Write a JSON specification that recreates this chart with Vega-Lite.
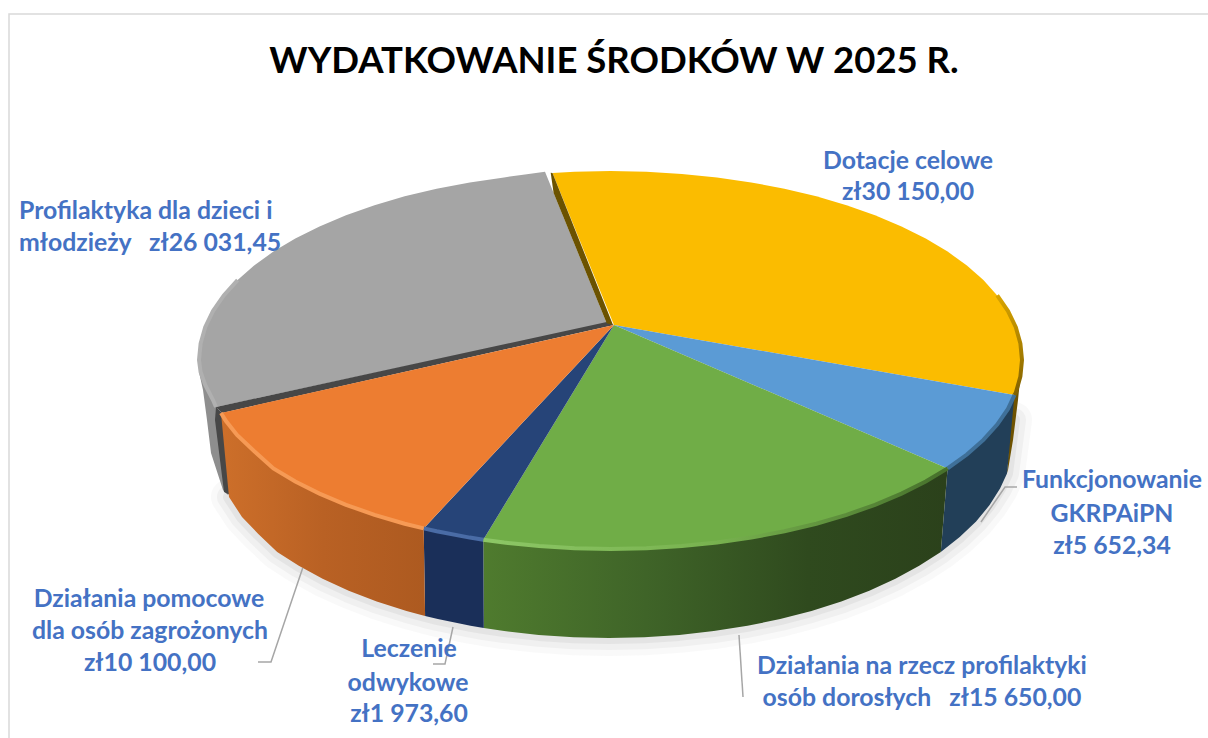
{
"$schema":"https://vega.github.io/schema/vega-lite/v6.json",
"width":1208,"height":648,"autosize":{"type":"none"},"padding":{"left":0,"right":0,"top":90,"bottom":0},
"background":"#ffffff","view":{"stroke":null},
"title":{"text":"WYDATKOWANIE ŚRODKÓW W 2025 R.","font":"Lato","fontSize":36.5,"fontWeight":"bold","color":"#000000","anchor":"middle","dx":10,"dy":69,"offset":0},
"datasets":{
"frame":[{"x":1208,"y":14},{"x":9,"y":14},{"x":9,"y":738}],
"bottomEdge":[{"x":1014,"y":420},{"x":1007,"y":473.5},{"x":1000.2,"y":488.3},{"x":989.6,"y":505.1},{"x":976.1,"y":521.4},{"x":959.7,"y":537},{"x":940.8,"y":551.9},{"x":919.2,"y":565.8},{"x":895.4,"y":578.8},{"x":869.3,"y":590.7},{"x":841.3,"y":601.5},{"x":811.5,"y":610.9},{"x":780.2,"y":619.1},{"x":747.5,"y":625.8},{"x":713.8,"y":631.1},{"x":679.3,"y":634.9},{"x":644.3,"y":637.2},{"x":609,"y":638},{"x":573.7,"y":637.2},{"x":538.7,"y":634.9},{"x":504.2,"y":631.1},{"x":483.8,"y":628.1},{"x":470.5,"y":625.8},{"x":437.8,"y":619.1},{"x":425.1,"y":616},{"x":406.5,"y":610.9},{"x":376.7,"y":601.5},{"x":348.7,"y":590.7},{"x":322.6,"y":578.8},{"x":298.8,"y":565.8},{"x":277.2,"y":551.9},{"x":258.3,"y":534},{"x":242,"y":517},{"x":229,"y":497}],
"sideGray":[{"x":199,"y":345},{"x":199,"y":372},{"x":203,"y":390},{"x":207,"y":420},{"x":211,"y":453},{"x":223,"y":490},{"x":228,"y":495},{"x":218,"y":410}],
"sideDark":[{"x":216,"y":407},{"x":222,"y":413},{"x":230,"y":495},{"x":224,"y":492},{"x":215,"y":420}],
"sideYellow":[{"x":1016,"y":335},{"x":1022,"y":360},{"x":1020.4,"y":376.5},{"x":1018,"y":400},{"x":1013,"y":440},{"x":1008,"y":470},{"x":1007,"y":473},{"x":1012,"y":400}],
"sideBlue":[{"x":1014.5,"y":395},{"x":1008,"y":408.9},{"x":997.2,"y":424.6},{"x":983.4,"y":439.9},{"x":966.9,"y":454.5},{"x":947.6,"y":468.4},{"x":940.8,"y":551.9},{"x":959.7,"y":537},{"x":976.1,"y":521.4},{"x":989.6,"y":505.1},{"x":1000.2,"y":488.3},{"x":1007,"y":473.5}],
"sideGreen":[{"x":947.6,"y":468.4},{"x":925.7,"y":481.5},{"x":901.5,"y":493.6},{"x":875,"y":504.8},{"x":846.5,"y":514.8},{"x":816.3,"y":523.7},{"x":784.4,"y":531.3},{"x":751.2,"y":537.6},{"x":717,"y":542.6},{"x":681.9,"y":546.1},{"x":646.4,"y":548.3},{"x":610.5,"y":549},{"x":574.6,"y":548.3},{"x":539.1,"y":546.1},{"x":504,"y":542.6},{"x":483.3,"y":539.7},{"x":483.8,"y":628.1},{"x":504.2,"y":631.1},{"x":538.7,"y":634.9},{"x":573.7,"y":637.2},{"x":609,"y":638},{"x":644.3,"y":637.2},{"x":679.3,"y":634.9},{"x":713.8,"y":631.1},{"x":747.5,"y":625.8},{"x":780.2,"y":619.1},{"x":811.5,"y":610.9},{"x":841.3,"y":601.5},{"x":869.3,"y":590.7},{"x":895.4,"y":578.8},{"x":919.2,"y":565.8},{"x":940.8,"y":551.9}],
"sideNavy":[{"x":483.3,"y":539.7},{"x":469.8,"y":537.6},{"x":436.6,"y":531.3},{"x":423.7,"y":528.4},{"x":425.1,"y":616},{"x":437.8,"y":619.1},{"x":470.5,"y":625.8},{"x":483.8,"y":628.1}],
"sideOrange":[{"x":423.7,"y":528.4},{"x":404.7,"y":523.7},{"x":374.5,"y":514.8},{"x":346,"y":504.8},{"x":319.5,"y":493.6},{"x":295.3,"y":481.5},{"x":273.4,"y":468.4},{"x":254,"y":451},{"x":237,"y":435},{"x":226,"y":421},{"x":221,"y":413},{"x":229,"y":497},{"x":242,"y":517},{"x":258.3,"y":534},{"x":277.2,"y":551.9},{"x":298.8,"y":565.8},{"x":322.6,"y":578.8},{"x":348.7,"y":590.7},{"x":376.7,"y":601.5},{"x":406.5,"y":610.9},{"x":425.1,"y":616}],
"topGray":[{"x":606.7,"y":323.3},{"x":216,"y":407},{"x":213,"y":400},{"x":205.2,"y":385},{"x":200.6,"y":372},{"x":199,"y":360},{"x":200.6,"y":343.5},{"x":205.2,"y":327.2},{"x":213,"y":311.1},{"x":223.8,"y":295.4},{"x":237.6,"y":280.1},{"x":254.1,"y":265.5},{"x":273.4,"y":251.6},{"x":295.3,"y":238.5},{"x":319.5,"y":226.4},{"x":346,"y":215.2},{"x":374.5,"y":205.2},{"x":404.7,"y":196.3},{"x":436.6,"y":188.7},{"x":469.8,"y":182.4},{"x":504,"y":177.4},{"x":525,"y":174.5},{"x":545,"y":171.7}],
"darkEdge":[{"x":614,"y":325},{"x":222,"y":413},{"x":216,"y":407},{"x":606.7,"y":322}],
"topYellow":[{"x":614,"y":325},{"x":552.5,"y":173},{"x":574.6,"y":171.7},{"x":610.5,"y":171},{"x":646.4,"y":171.7},{"x":681.9,"y":173.9},{"x":717,"y":177.4},{"x":751.2,"y":182.4},{"x":784.4,"y":188.7},{"x":816.3,"y":196.3},{"x":846.5,"y":205.2},{"x":875,"y":215.2},{"x":901.5,"y":226.4},{"x":925.7,"y":238.5},{"x":947.6,"y":251.6},{"x":966.9,"y":265.5},{"x":983.4,"y":280.1},{"x":997.2,"y":295.4},{"x":1008,"y":311.1},{"x":1015.8,"y":327.2},{"x":1020.4,"y":343.5},{"x":1022,"y":360},{"x":1020.4,"y":376.5},{"x":1015.8,"y":392.8},{"x":1014.5,"y":395}],
"wallYellow":[{"x":550.7,"y":172.7},{"x":553.6,"y":193},{"x":606.7,"y":323.3},{"x":613,"y":325},{"x":552.5,"y":173}],
"topBlue":[{"x":614,"y":325},{"x":1014.5,"y":395},{"x":1008,"y":408.9},{"x":997.2,"y":424.6},{"x":983.4,"y":439.9},{"x":966.9,"y":454.5},{"x":947.6,"y":468.4}],
"topGreen":[{"x":614,"y":325},{"x":947.6,"y":468.4},{"x":925.7,"y":481.5},{"x":901.5,"y":493.6},{"x":875,"y":504.8},{"x":846.5,"y":514.8},{"x":816.3,"y":523.7},{"x":784.4,"y":531.3},{"x":751.2,"y":537.6},{"x":717,"y":542.6},{"x":681.9,"y":546.1},{"x":646.4,"y":548.3},{"x":610.5,"y":549},{"x":574.6,"y":548.3},{"x":539.1,"y":546.1},{"x":504,"y":542.6},{"x":483.3,"y":539.7}],
"topNavy":[{"x":614,"y":325},{"x":483.3,"y":539.7},{"x":469.8,"y":537.6},{"x":436.6,"y":531.3},{"x":423.7,"y":528.4}],
"topOrange":[{"x":614,"y":325},{"x":423.7,"y":528.4},{"x":404.7,"y":523.7},{"x":374.5,"y":514.8},{"x":346,"y":504.8},{"x":319.5,"y":493.6},{"x":295.3,"y":481.5},{"x":273.4,"y":468.4},{"x":254,"y":451},{"x":237,"y":435},{"x":226,"y":421},{"x":221,"y":413}],
"leaders":[{"leader":"a","x":302.7,"y":568},{"leader":"a","x":271,"y":662},{"leader":"a","x":258,"y":662},{"leader":"b","x":453,"y":627},{"leader":"b","x":445,"y":664},{"leader":"b","x":433,"y":664},{"leader":"c","x":739,"y":635},{"leader":"c","x":743,"y":697},{"leader":"d","x":981,"y":522},{"leader":"d","x":1005,"y":487},{"leader":"d","x":1017,"y":487}],
"labels":[
{"t":"Dotacje celowe","x":908,"y":160,"a":"center"},{"t":"zł30 150,00","x":908,"y":191,"a":"center"},
{"t":"Profilaktyka dla dzieci i","x":19,"y":210,"a":"left"},{"t":"młodzieży\u00a0\u00a0\u00a0zł26 031,45","x":19,"y":242,"a":"left"},
{"t":"Funkcjonowanie","x":1112,"y":479,"a":"center"},{"t":"GKRPAiPN","x":1112,"y":513,"a":"center"},{"t":"zł5 652,34","x":1112,"y":545,"a":"center"},
{"t":"Działania pomocowe","x":149,"y":598,"a":"center"},{"t":"dla osób zagrożonych","x":150,"y":630,"a":"center"},{"t":"zł10 100,00","x":150,"y":662,"a":"center"},
{"t":"Leczenie","x":409,"y":648,"a":"center"},{"t":"odwykowe","x":408,"y":682,"a":"center"},{"t":"zł1 973,60","x":409,"y":713,"a":"center"},
{"t":"Działania na rzecz profilaktyki","x":922,"y":665,"a":"center"},{"t":"osób dorosłych\u00a0\u00a0\u00a0zł15 650,00","x":922,"y":697,"a":"center"}]
},
"encoding":{
"x":{"field":"x","type":"quantitative","scale":{"domain":[0,1208],"nice":false,"zero":false},"axis":null},
"y":{"field":"y","type":"quantitative","scale":{"domain":[738,90],"nice":false,"zero":false},"axis":null},
"order":{"value":null}
},
"layer":[
{"data":{"name":"frame"},"mark":{"type":"line","stroke":"#d9d9d9","strokeWidth":1.5}},
{"data":{"name":"bottomEdge"},"mark":{"type":"line","stroke":"#808080","opacity":0.05,"strokeWidth":36,"strokeCap":"round","strokeJoin":"round"}},
{"data":{"name":"bottomEdge"},"mark":{"type":"line","stroke":"#808080","opacity":0.07,"strokeWidth":24,"strokeCap":"round","strokeJoin":"round"}},
{"data":{"name":"bottomEdge"},"mark":{"type":"line","stroke":"#808080","opacity":0.1,"strokeWidth":12,"strokeCap":"round","strokeJoin":"round"}},
{"data":{"name":"sideGray"},"mark":{"type":"line","interpolate":"linear-closed","fill":"#8e8e8e","strokeWidth":0}},
{"data":{"name":"sideDark"},"mark":{"type":"line","interpolate":"linear-closed","fill":"#474747","strokeWidth":0}},
{"data":{"name":"sideYellow"},"mark":{"type":"line","interpolate":"linear-closed","fill":"#6e5200","strokeWidth":0}},
{"data":{"name":"sideBlue"},"mark":{"type":"line","interpolate":"linear-closed","fill":"#223f58","strokeWidth":0}},
{"data":{"name":"sideGreen"},"mark":{"type":"line","interpolate":"linear-closed","strokeWidth":0,"fill":{"x1":0,"y1":0,"x2":1,"y2":0,"gradient":"linear","stops":[{"offset":0,"color":"#4f7b2e"},{"offset":0.35,"color":"#3f6428"},{"offset":0.7,"color":"#2f4a1e"},{"offset":1,"color":"#2b411b"}]}}},
{"data":{"name":"sideNavy"},"mark":{"type":"line","interpolate":"linear-closed","fill":"#1a2f59","strokeWidth":0}},
{"data":{"name":"sideOrange"},"mark":{"type":"line","interpolate":"linear-closed","strokeWidth":0,"fill":{"x1":0,"y1":0,"x2":1,"y2":0,"gradient":"linear","stops":[{"offset":0,"color":"#cd6f2a"},{"offset":0.5,"color":"#b96124"},{"offset":1,"color":"#ad5a20"}]}}},
{"data":{"name":"topGray"},"mark":{"type":"line","interpolate":"linear-closed","fill":"#a5a5a5","strokeWidth":0}},
{"data":{"name":"darkEdge"},"mark":{"type":"line","interpolate":"linear-closed","fill":"#474747","strokeWidth":0}},
{"data":{"name":"topYellow"},"mark":{"type":"line","interpolate":"linear-closed","fill":"#fbbc00","strokeWidth":0}},
{"data":{"name":"wallYellow"},"mark":{"type":"line","interpolate":"linear-closed","fill":"#6b5200","strokeWidth":0}},
{"data":{"name":"topBlue"},"mark":{"type":"line","interpolate":"linear-closed","fill":"#5b9bd5","strokeWidth":0}},
{"data":{"name":"topGreen"},"mark":{"type":"line","interpolate":"linear-closed","fill":"#70ad47","strokeWidth":0}},
{"data":{"name":"topNavy"},"mark":{"type":"line","interpolate":"linear-closed","fill":"#264478","strokeWidth":0}},
{"data":{"name":"topOrange"},"mark":{"type":"line","interpolate":"linear-closed","fill":"#ed7d31","strokeWidth":0}},
{"data":{"name":"topYellow"},"transform":[{"filter":"datum.y != 325 && datum.x > 990"}],"mark":{"type":"line","strokeWidth":4,"stroke":{"x1":0,"y1":0,"x2":0,"y2":1,"gradient":"linear","stops":[{"offset":0,"color":"#d8a400"},{"offset":1,"color":"#806000"}]}}},
{"data":{"name":"topBlue"},"transform":[{"filter":"datum.y != 325"}],"mark":{"type":"line","strokeWidth":4,"stroke":"#3f7099"}},
{"data":{"name":"topGreen"},"transform":[{"filter":"datum.y != 325"}],"mark":{"type":"line","strokeWidth":4,"stroke":{"x1":0,"y1":0,"x2":1,"y2":0,"gradient":"linear","stops":[{"offset":0,"color":"#8dc766"},{"offset":0.5,"color":"#78b24f"},{"offset":1,"color":"#46702b"}]}}},
{"data":{"name":"topNavy"},"transform":[{"filter":"datum.y != 325"}],"mark":{"type":"line","strokeWidth":4,"stroke":"#4a6ca6"}},
{"data":{"name":"topOrange"},"transform":[{"filter":"datum.y != 325"}],"mark":{"type":"line","strokeWidth":4,"stroke":"#f69a55"}},
{"data":{"name":"topGray"},"transform":[{"filter":"datum.x < 240"}],"mark":{"type":"line","strokeWidth":4,"stroke":"#b0b0b0"}},
{"data":{"name":"leaders"},"mark":{"type":"line","stroke":"#a6a6a6","strokeWidth":1.5},"encoding":{"detail":{"field":"leader"}}},
{"data":{"name":"labels"},"transform":[{"filter":"datum.a === 'center'"}],"mark":{"type":"text","font":"Lato","fontSize":24.8,"fontWeight":"bold","color":"#4472c4","align":"center","baseline":"middle","dy":1.5},"encoding":{"text":{"field":"t"}}},
{"data":{"name":"labels"},"transform":[{"filter":"datum.a === 'left'"}],"mark":{"type":"text","font":"Lato","fontSize":24.8,"fontWeight":"bold","color":"#4472c4","align":"left","baseline":"middle","dy":1.5},"encoding":{"text":{"field":"t"}}}
]
}
